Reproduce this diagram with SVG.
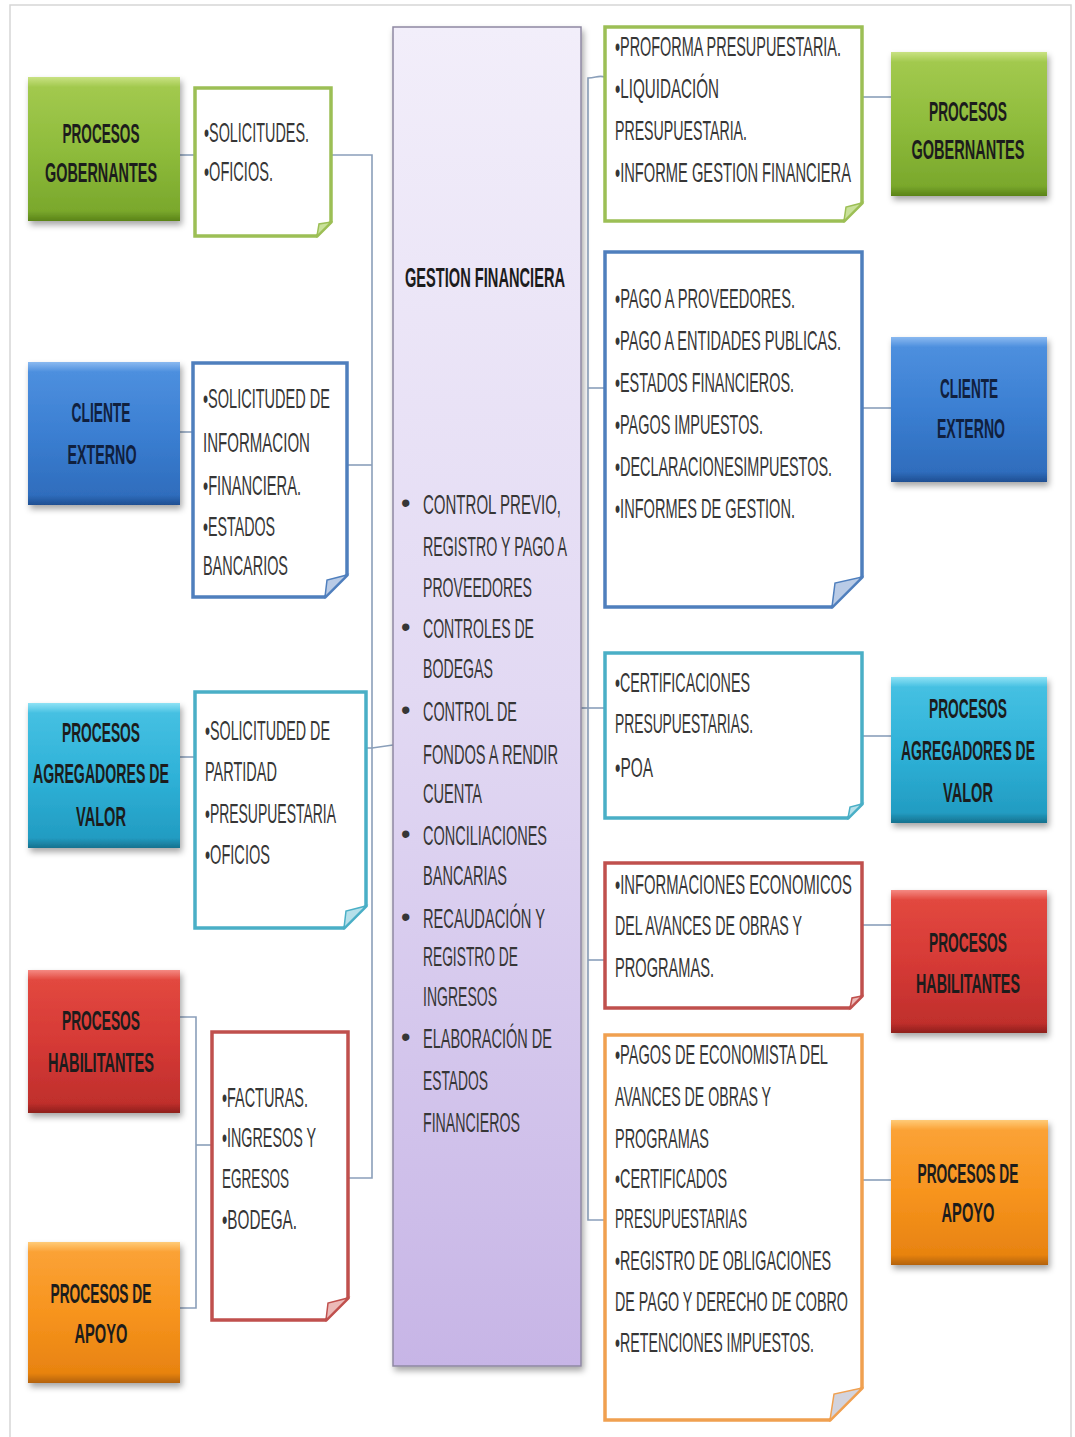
<svg xmlns="http://www.w3.org/2000/svg" width="1075" height="1437" viewBox="0 0 1075 1437">
<defs>
<style>
.t{font-family:"Liberation Sans",Arial,sans-serif;font-size:27px;fill:#363636;}
.b{font-family:"Liberation Sans",Arial,sans-serif;font-size:27px;font-weight:bold;fill:#1c1c1c;}
.bt{text-anchor:middle;}
.nv{fill:#10203e;}
.con{fill:none;stroke:#8a9fba;stroke-width:1.6;}
.note{fill:#ffffff;stroke-width:3.5;stroke-linejoin:miter;}
.ng{stroke:#9cbf55;} .fg{fill:#c9e19a;stroke:#9cbf55;stroke-width:1.5;}
.nb{stroke:#4f7fbd;} .fb{fill:#b9cbe6;stroke:#4f7fbd;stroke-width:1.5;}
.nc{stroke:#4aafc6;} .fc{fill:#b6e0ea;stroke:#4aafc6;stroke-width:1.5;}
.nr{stroke:#c0504d;} .fr{fill:#ecbab8;stroke:#c0504d;stroke-width:1.5;}
.no{stroke:#f0a050;} .fo{fill:#d3d3dc;stroke:#f0a050;stroke-width:1.5;}
.sh{filter:url(#sh);}
</style>
<filter id="sh" x="-10%" y="-10%" width="125%" height="130%">
<feDropShadow dx="2" dy="4" stdDeviation="3" flood-color="#000" flood-opacity="0.35"/>
</filter>
<linearGradient id="gG" x1="0" y1="0" x2="0" y2="1">
<stop offset="0" stop-color="#c9e283"/><stop offset="0.07" stop-color="#a2c94e"/><stop offset="0.5" stop-color="#8fbc3c"/><stop offset="0.93" stop-color="#7aa82c"/><stop offset="1" stop-color="#5a8318"/>
</linearGradient>
<linearGradient id="gB" x1="0" y1="0" x2="0" y2="1">
<stop offset="0" stop-color="#8ab9f0"/><stop offset="0.07" stop-color="#4d8fde"/><stop offset="0.5" stop-color="#3b7fd2"/><stop offset="0.93" stop-color="#2f6dbd"/><stop offset="1" stop-color="#1f4f92"/>
</linearGradient>
<linearGradient id="gC" x1="0" y1="0" x2="0" y2="1">
<stop offset="0" stop-color="#8fe2f5"/><stop offset="0.07" stop-color="#45c0e2"/><stop offset="0.5" stop-color="#2fb2d8"/><stop offset="0.93" stop-color="#229cc2"/><stop offset="1" stop-color="#15718e"/>
</linearGradient>
<linearGradient id="gR" x1="0" y1="0" x2="0" y2="1">
<stop offset="0" stop-color="#f58a83"/><stop offset="0.07" stop-color="#e2483f"/><stop offset="0.5" stop-color="#d63a36"/><stop offset="0.93" stop-color="#c02f2c"/><stop offset="1" stop-color="#8e1f1c"/>
</linearGradient>
<linearGradient id="gO" x1="0" y1="0" x2="0" y2="1">
<stop offset="0" stop-color="#ffcb78"/><stop offset="0.07" stop-color="#fba236"/><stop offset="0.5" stop-color="#f7941e"/><stop offset="0.93" stop-color="#e88310"/><stop offset="1" stop-color="#b3620a"/>
</linearGradient>
<linearGradient id="gM" x1="0" y1="0" x2="0" y2="1">
<stop offset="0" stop-color="#f2eefa"/><stop offset="0.5" stop-color="#e2d9f3"/><stop offset="1" stop-color="#c7b5e6"/>
</linearGradient>
</defs>

<rect x="10" y="5" width="1061" height="1440" fill="#ffffff" stroke="#d6d6d6" stroke-width="1.5"/>

<g id="connectors">
<path class="con" d="M180,155 H195"/>
<path class="con" d="M332,155 H372 V1178 H348"/>
<path class="con" d="M347,465 H372"/>
<path class="con" d="M366,748 H372 L393,745"/>
<path class="con" d="M180,432 H193"/>
<path class="con" d="M180,757 H195"/>
<path class="con" d="M180,1017 H196 V1308 H180"/>
<path class="con" d="M196,1145 H212"/>
<path class="con" d="M605,77 C598,75 596,78 588,78 V1220 H605"/>
<path class="con" d="M588,388 H605"/>
<path class="con" d="M581,708 H605"/>
<path class="con" d="M588,960 H605"/>
<path class="con" d="M862,97 H891"/>
<path class="con" d="M862,408 H891"/>
<path class="con" d="M862,736 H891"/>
<path class="con" d="M862,925 H891"/>
<path class="con" d="M862,1180 H891"/>
</g>

<g id="central">
<rect x="393" y="27" width="188" height="1339" fill="url(#gM)" stroke="#8e88a2" stroke-width="1.5" class="sh"/>
<g class="t">
<text x="401" y="512">•</text>
<text x="401" y="636">•</text>
<text x="401" y="719">•</text>
<text x="401" y="843">•</text>
<text x="401" y="926">•</text>
<text x="401" y="1046">•</text>
</g>
<g transform="scale(0.5,1)">
<text class="b" x="810" y="287" textLength="320" lengthAdjust="spacingAndGlyphs">GESTION FINANCIERA</text>
<g class="t">
<text x="846" y="514" textLength="276" lengthAdjust="spacingAndGlyphs">CONTROL PREVIO,</text>
<text x="846" y="556" textLength="288" lengthAdjust="spacingAndGlyphs">REGISTRO Y PAGO A</text>
<text x="846" y="597" textLength="218" lengthAdjust="spacingAndGlyphs">PROVEEDORES</text>
<text x="846" y="638" textLength="222" lengthAdjust="spacingAndGlyphs">CONTROLES DE</text>
<text x="846" y="678" textLength="140" lengthAdjust="spacingAndGlyphs">BODEGAS</text>
<text x="846" y="721" textLength="188" lengthAdjust="spacingAndGlyphs">CONTROL DE</text>
<text x="846" y="764" textLength="270" lengthAdjust="spacingAndGlyphs">FONDOS A RENDIR</text>
<text x="846" y="803" textLength="118" lengthAdjust="spacingAndGlyphs">CUENTA</text>
<text x="846" y="845" textLength="248" lengthAdjust="spacingAndGlyphs">CONCILIACIONES</text>
<text x="846" y="885" textLength="168" lengthAdjust="spacingAndGlyphs">BANCARIAS</text>
<text x="846" y="928" textLength="244" lengthAdjust="spacingAndGlyphs">RECAUDACIÓN Y</text>
<text x="846" y="966" textLength="190" lengthAdjust="spacingAndGlyphs">REGISTRO DE</text>
<text x="846" y="1006" textLength="148" lengthAdjust="spacingAndGlyphs">INGRESOS</text>
<text x="846" y="1048" textLength="258" lengthAdjust="spacingAndGlyphs">ELABORACIÓN DE</text>
<text x="846" y="1090" textLength="130" lengthAdjust="spacingAndGlyphs">ESTADOS</text>
<text x="846" y="1132" textLength="194" lengthAdjust="spacingAndGlyphs">FINANCIEROS</text>
</g>
</g>
</g>

<!-- Left boxes -->
<g id="l-gob">
<rect class="sh" x="28" y="77" width="152" height="144" fill="url(#gG)"/>
<g transform="scale(0.5,1)">
<text class="b bt" x="202" y="143" textLength="154" lengthAdjust="spacingAndGlyphs">PROCESOS</text>
<text class="b bt" x="202" y="182" textLength="224" lengthAdjust="spacingAndGlyphs">GOBERNANTES</text>
</g>
</g>
<g id="l-cli">
<rect class="sh" x="28" y="362" width="152" height="143" fill="url(#gB)"/>
<g transform="scale(0.5,1)">
<text class="b bt nv" x="202" y="422" textLength="118" lengthAdjust="spacingAndGlyphs">CLIENTE</text>
<text class="b bt nv" x="204" y="464" textLength="138" lengthAdjust="spacingAndGlyphs">EXTERNO</text>
</g>
</g>
<g id="l-agr">
<rect class="sh" x="28" y="703" width="152" height="145" fill="url(#gC)"/>
<g transform="scale(0.5,1)">
<text class="b bt" x="202" y="742" textLength="156" lengthAdjust="spacingAndGlyphs">PROCESOS</text>
<text class="b bt" x="202" y="783" textLength="272" lengthAdjust="spacingAndGlyphs">AGREGADORES DE</text>
<text class="b bt" x="202" y="826" textLength="100" lengthAdjust="spacingAndGlyphs">VALOR</text>
</g>
</g>
<g id="l-hab">
<rect class="sh" x="28" y="970" width="152" height="143" fill="url(#gR)"/>
<g transform="scale(0.5,1)">
<text class="b bt" x="202" y="1030" textLength="156" lengthAdjust="spacingAndGlyphs">PROCESOS</text>
<text class="b bt" x="202" y="1072" textLength="212" lengthAdjust="spacingAndGlyphs">HABILITANTES</text>
</g>
</g>
<g id="l-apo">
<rect class="sh" x="28" y="1242" width="152" height="141" fill="url(#gO)"/>
<g transform="scale(0.5,1)">
<text class="b bt" x="202" y="1303" textLength="202" lengthAdjust="spacingAndGlyphs">PROCESOS DE</text>
<text class="b bt" x="202" y="1343" textLength="106" lengthAdjust="spacingAndGlyphs">APOYO</text>
</g>
</g>

<!-- Left notes -->
<g id="n-l1">
<path class="note ng" d="M195,88 H331 V222 L317,236 H195 Z"/>
<path class="fg" d="M331,222 L317,236 L319,224 Z"/>
<g transform="scale(0.5,1)" class="t">
<text x="408" y="142" textLength="210" lengthAdjust="spacingAndGlyphs">•SOLICITUDES.</text>
<text x="408" y="181" textLength="138" lengthAdjust="spacingAndGlyphs">•OFICIOS.</text>
</g>
</g>
<g id="n-l2">
<path class="note nb" d="M193,363 H347 V575 L325,597 H193 Z"/>
<path class="fb" d="M347,575 L325,597 L327,580 Z"/>
<g transform="scale(0.5,1)" class="t">
<text x="406" y="408" textLength="254" lengthAdjust="spacingAndGlyphs">•SOLICITUDED DE</text>
<text x="406" y="452" textLength="214" lengthAdjust="spacingAndGlyphs">INFORMACION</text>
<text x="406" y="495" textLength="196" lengthAdjust="spacingAndGlyphs">•FINANCIERA.</text>
<text x="406" y="536" textLength="144" lengthAdjust="spacingAndGlyphs">•ESTADOS</text>
<text x="406" y="575" textLength="170" lengthAdjust="spacingAndGlyphs">BANCARIOS</text>
</g>
</g>
<g id="n-l3">
<path class="note nc" d="M195,692 H366 V906 L344,928 H195 Z"/>
<path class="fc" d="M366,906 L344,928 L346,911 Z"/>
<g transform="scale(0.5,1)" class="t">
<text x="410" y="740" textLength="250" lengthAdjust="spacingAndGlyphs">•SOLICITUDED DE</text>
<text x="410" y="781" textLength="144" lengthAdjust="spacingAndGlyphs">PARTIDAD</text>
<text x="410" y="823" textLength="262" lengthAdjust="spacingAndGlyphs">•PRESUPUESTARIA</text>
<text x="410" y="864" textLength="130" lengthAdjust="spacingAndGlyphs">•OFICIOS</text>
</g>
</g>
<g id="n-l4">
<path class="note nr" d="M212,1032 H348 V1298 L326,1320 H212 Z"/>
<path class="fr" d="M348,1298 L326,1320 L328,1303 Z"/>
<g transform="scale(0.5,1)" class="t">
<text x="444" y="1107" textLength="172" lengthAdjust="spacingAndGlyphs">•FACTURAS.</text>
<text x="444" y="1147" textLength="188" lengthAdjust="spacingAndGlyphs">•INGRESOS Y</text>
<text x="444" y="1188" textLength="134" lengthAdjust="spacingAndGlyphs">EGRESOS</text>
<text x="444" y="1229" textLength="150" lengthAdjust="spacingAndGlyphs">•BODEGA.</text>
</g>
</g>

<!-- Right notes -->
<g id="n-r1">
<path class="note ng" d="M605,27 H862 V203 L844,221 H605 Z"/>
<path class="fg" d="M862,203 L844,221 L846,207 Z"/>
<g transform="scale(0.5,1)" class="t">
<text x="1230" y="56" textLength="452" lengthAdjust="spacingAndGlyphs">•PROFORMA PRESUPUESTARIA.</text>
<text x="1230" y="98" textLength="208" lengthAdjust="spacingAndGlyphs">•LIQUIDACIÓN</text>
<text x="1230" y="140" textLength="264" lengthAdjust="spacingAndGlyphs">PRESUPUESTARIA.</text>
<text x="1230" y="182" textLength="472" lengthAdjust="spacingAndGlyphs">•INFORME GESTION FINANCIERA</text>
</g>
</g>
<g id="n-r2">
<path class="note nb" d="M605,252 H862 V577 L832,607 H605 Z"/>
<path class="fb" d="M862,577 L832,607 L835,583 Z"/>
<g transform="scale(0.5,1)" class="t">
<text x="1230" y="308" textLength="360" lengthAdjust="spacingAndGlyphs">•PAGO A PROVEEDORES.</text>
<text x="1230" y="350" textLength="452" lengthAdjust="spacingAndGlyphs">•PAGO A ENTIDADES PUBLICAS.</text>
<text x="1230" y="392" textLength="358" lengthAdjust="spacingAndGlyphs">•ESTADOS FINANCIEROS.</text>
<text x="1230" y="434" textLength="296" lengthAdjust="spacingAndGlyphs">•PAGOS IMPUESTOS.</text>
<text x="1230" y="476" textLength="434" lengthAdjust="spacingAndGlyphs">•DECLARACIONESIMPUESTOS.</text>
<text x="1230" y="518" textLength="360" lengthAdjust="spacingAndGlyphs">•INFORMES DE GESTION.</text>
</g>
</g>
<g id="n-r3">
<path class="note nc" d="M605,653 H862 V804 L848,818 H605 Z"/>
<path class="fc" d="M862,804 L848,818 L850,807 Z"/>
<g transform="scale(0.5,1)" class="t">
<text x="1230" y="692" textLength="270" lengthAdjust="spacingAndGlyphs">•CERTIFICACIONES</text>
<text x="1230" y="733" textLength="276" lengthAdjust="spacingAndGlyphs">PRESUPUESTARIAS.</text>
<text x="1230" y="777" textLength="76" lengthAdjust="spacingAndGlyphs">•POA</text>
</g>
</g>
<g id="n-r4">
<path class="note nr" d="M605,863 H862 V996 L850,1008 H605 Z"/>
<path class="fr" d="M862,996 L850,1008 L852,998 Z"/>
<g transform="scale(0.5,1)" class="t">
<text x="1230" y="894" textLength="474" lengthAdjust="spacingAndGlyphs">•INFORMACIONES ECONOMICOS</text>
<text x="1230" y="935" textLength="374" lengthAdjust="spacingAndGlyphs">DEL AVANCES DE OBRAS Y</text>
<text x="1230" y="977" textLength="198" lengthAdjust="spacingAndGlyphs">PROGRAMAS.</text>
</g>
</g>
<g id="n-r5">
<path class="note no" d="M605,1035 H862 V1388 L830,1420 H605 Z"/>
<path class="fo" d="M862,1388 L830,1420 L834,1394 Z"/>
<g transform="scale(0.5,1)" class="t">
<text x="1230" y="1064" textLength="426" lengthAdjust="spacingAndGlyphs">•PAGOS DE ECONOMISTA DEL</text>
<text x="1230" y="1106" textLength="312" lengthAdjust="spacingAndGlyphs">AVANCES DE OBRAS Y</text>
<text x="1230" y="1148" textLength="188" lengthAdjust="spacingAndGlyphs">PROGRAMAS</text>
<text x="1230" y="1188" textLength="224" lengthAdjust="spacingAndGlyphs">•CERTIFICADOS</text>
<text x="1230" y="1228" textLength="264" lengthAdjust="spacingAndGlyphs">PRESUPUESTARIAS</text>
<text x="1230" y="1270" textLength="432" lengthAdjust="spacingAndGlyphs">•REGISTRO DE OBLIGACIONES</text>
<text x="1230" y="1311" textLength="466" lengthAdjust="spacingAndGlyphs">DE PAGO Y DERECHO DE COBRO</text>
<text x="1230" y="1352" textLength="398" lengthAdjust="spacingAndGlyphs">•RETENCIONES IMPUESTOS.</text>
</g>
</g>

<!-- Right boxes -->
<g id="r-gob">
<rect class="sh" x="891" y="52" width="156" height="144" fill="url(#gG)"/>
<g transform="scale(0.5,1)">
<text class="b bt" x="1936" y="121" textLength="156" lengthAdjust="spacingAndGlyphs">PROCESOS</text>
<text class="b bt" x="1936" y="159" textLength="226" lengthAdjust="spacingAndGlyphs">GOBERNANTES</text>
</g>
</g>
<g id="r-cli">
<rect class="sh" x="891" y="337" width="156" height="145" fill="url(#gB)"/>
<g transform="scale(0.5,1)">
<text class="b bt nv" x="1938" y="398" textLength="116" lengthAdjust="spacingAndGlyphs">CLIENTE</text>
<text class="b bt nv" x="1942" y="438" textLength="136" lengthAdjust="spacingAndGlyphs">EXTERNO</text>
</g>
</g>
<g id="r-agr">
<rect class="sh" x="891" y="677" width="156" height="146" fill="url(#gC)"/>
<g transform="scale(0.5,1)">
<text class="b bt" x="1936" y="718" textLength="156" lengthAdjust="spacingAndGlyphs">PROCESOS</text>
<text class="b bt" x="1936" y="760" textLength="268" lengthAdjust="spacingAndGlyphs">AGREGADORES DE</text>
<text class="b bt" x="1936" y="802" textLength="100" lengthAdjust="spacingAndGlyphs">VALOR</text>
</g>
</g>
<g id="r-hab">
<rect class="sh" x="891" y="890" width="156" height="143" fill="url(#gR)"/>
<g transform="scale(0.5,1)">
<text class="b bt" x="1936" y="952" textLength="156" lengthAdjust="spacingAndGlyphs">PROCESOS</text>
<text class="b bt" x="1936" y="993" textLength="208" lengthAdjust="spacingAndGlyphs">HABILITANTES</text>
</g>
</g>
<g id="r-apo">
<rect class="sh" x="891" y="1120" width="157" height="145" fill="url(#gO)"/>
<g transform="scale(0.5,1)">
<text class="b bt" x="1936" y="1183" textLength="202" lengthAdjust="spacingAndGlyphs">PROCESOS DE</text>
<text class="b bt" x="1936" y="1222" textLength="106" lengthAdjust="spacingAndGlyphs">APOYO</text>
</g>
</g>
</svg>
